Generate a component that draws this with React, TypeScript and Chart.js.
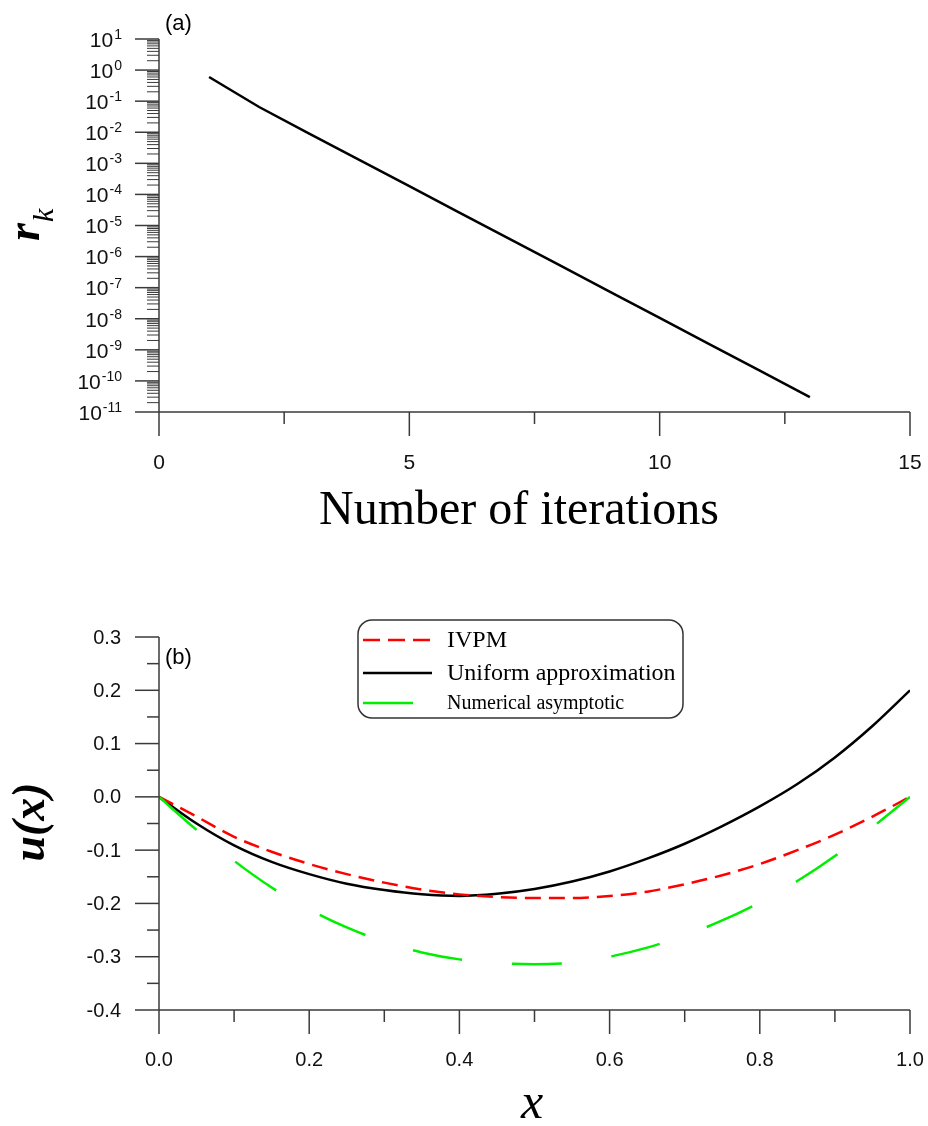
import React, { useEffect, useRef } from "react";
import { Chart, registerables } from "chart.js";

Chart.register(...registerables);

// ---------- Data (panel a) ----------
const iterations = [1, 2, 3, 4, 5, 6, 7, 8, 9, 10, 11, 12, 13];
const residuals = [0.6, 0.065, 9.1e-3, 1.3e-3, 1.85e-4, 2.6e-5, 3.7e-6, 5.3e-7, 7.5e-8, 1.07e-8, 1.5e-9, 2.15e-10, 3.0e-11];
const iterTicks = [0, 5, 10, 15];
const iterMinorTicks = [2.5, 7.5, 12.5];
const logExponents = [1, 0, -1, -2, -3, -4, -5, -6, -7, -8, -9, -10, -11];

// ---------- Data (panel b) ----------
const xGrid = [0, 0.05, 0.1, 0.15, 0.2, 0.25, 0.3, 0.35, 0.4, 0.45, 0.5, 0.55, 0.6, 0.65, 0.7, 0.75, 0.8, 0.85, 0.9, 0.95, 1.0];
const ivpm = [0, -0.037, -0.075, -0.103, -0.126, -0.145, -0.161, -0.174, -0.183, -0.188, -0.19, -0.19, -0.186, -0.178, -0.164, -0.147, -0.126, -0.1, -0.071, -0.037, 0];
const uniform = [0, -0.05, -0.091, -0.122, -0.145, -0.163, -0.175, -0.183, -0.186, -0.182, -0.173, -0.159, -0.14, -0.116, -0.088, -0.055, -0.018, 0.024, 0.074, 0.133, 0.2];
const asymptotic = [0, -0.062, -0.12, -0.17, -0.211, -0.245, -0.272, -0.292, -0.305, -0.312, -0.314, -0.311, -0.3, -0.283, -0.26, -0.232, -0.198, -0.158, -0.111, -0.057, 0];
const uTicks = [0.3, 0.2, 0.1, 0.0, -0.1, -0.2, -0.3, -0.4];
const uMinorTicks = [0.25, 0.15, 0.05, -0.05, -0.15, -0.25, -0.35];
const xTicks = [0, 0.2, 0.4, 0.6, 0.8, 1.0];
const xMinorTicks = [0.1, 0.3, 0.5, 0.7, 0.9];
const legendLabels = ["IVPM", "Uniform approximation", "Numerical asymptotic"];

const AXIS = "#3a3a3a";
const SANS = '"Liberation Sans", Arial, sans-serif';
const SERIF = '"Liberation Serif", "Times New Roman", serif';

function seg(ctx: CanvasRenderingContext2D, x1: number, y1: number, x2: number, y2: number) {
  ctx.beginPath();
  ctx.moveTo(x1, y1);
  ctx.lineTo(x2, y2);
  ctx.stroke();
}

const axesA = {
  id: "axesA",
  afterDraw(chart: any) {
    const { ctx, chartArea: ca, scales } = chart;
    const x = scales.x;
    const y = scales.y;
    ctx.save();
    ctx.strokeStyle = AXIS;
    ctx.lineWidth = 1.5;
    seg(ctx, ca.left, ca.top, ca.left, ca.bottom);
    seg(ctx, ca.left, ca.bottom, ca.right, ca.bottom);
    ctx.fillStyle = "#111";
    for (const e of logExponents) {
      const py = y.getPixelForValue(Math.pow(10, e));
      seg(ctx, ca.left - 24, py, ca.left, py);
      if (e > -11) {
        for (let m = 2; m <= 9; m++) {
          const p = y.getPixelForValue(m * Math.pow(10, e - 1));
          ctx.lineWidth = 1;
          seg(ctx, ca.left - 12, p, ca.left, p);
          ctx.lineWidth = 1.5;
        }
      }
      ctx.font = `14px ${SANS}`;
      ctx.textAlign = "right";
      ctx.textBaseline = "alphabetic";
      const sup = String(e);
      const sw = ctx.measureText(sup).width;
      ctx.fillText(sup, 122, py);
      ctx.font = `21px ${SANS}`;
      ctx.textBaseline = "middle";
      ctx.fillText("10", 122 - sw - 1, py + 2);
    }
    for (const t of iterTicks) {
      const px = x.getPixelForValue(t);
      seg(ctx, px, ca.bottom, px, ca.bottom + 24);
      ctx.font = `21px ${SANS}`;
      ctx.textAlign = "center";
      ctx.textBaseline = "middle";
      ctx.fillText(String(t), px, 463);
    }
    for (const t of iterMinorTicks) {
      const px = x.getPixelForValue(t);
      seg(ctx, px, ca.bottom, px, ca.bottom + 12);
    }
    // titles
    ctx.fillStyle = "#000";
    ctx.font = `48px ${SERIF}`;
    ctx.textAlign = "center";
    ctx.textBaseline = "alphabetic";
    ctx.fillText("Number of iterations", 519, 524);
    ctx.font = `22px ${SANS}`;
    ctx.textAlign = "left";
    ctx.textBaseline = "middle";
    ctx.fillText("(a)", 165, 24);
    // y title r_k
    ctx.save();
    ctx.translate(39, 241);
    ctx.rotate(-Math.PI / 2);
    ctx.textAlign = "left";
    ctx.textBaseline = "alphabetic";
    ctx.font = `italic bold 46px ${SERIF}`;
    ctx.fillText("r", 0, 0);
    const rw = ctx.measureText("r").width;
    ctx.font = `italic 30px ${SERIF}`;
    ctx.fillText("k", rw + 1, 14);
    ctx.restore();
    ctx.restore();
  },
};

const axesB = {
  id: "axesB",
  afterDraw(chart: any) {
    const { ctx, chartArea: ca, scales } = chart;
    const x = scales.x;
    const y = scales.y;
    const off = 560;
    ctx.save();
    ctx.strokeStyle = AXIS;
    ctx.lineWidth = 1.5;
    seg(ctx, ca.left, ca.top, ca.left, ca.bottom);
    seg(ctx, ca.left, ca.bottom, ca.right, ca.bottom);
    ctx.fillStyle = "#111";
    for (const t of uTicks) {
      const py = y.getPixelForValue(t);
      seg(ctx, ca.left - 24, py, ca.left, py);
      ctx.font = `20px ${SANS}`;
      ctx.textAlign = "right";
      ctx.textBaseline = "middle";
      ctx.fillText(t.toFixed(1), 121, py + 1);
    }
    for (const t of uMinorTicks) {
      const py = y.getPixelForValue(t);
      seg(ctx, ca.left - 12, py, ca.left, py);
    }
    for (const t of xTicks) {
      const px = x.getPixelForValue(t);
      seg(ctx, px, ca.bottom, px, ca.bottom + 24);
      ctx.font = `20px ${SANS}`;
      ctx.textAlign = "center";
      ctx.textBaseline = "middle";
      ctx.fillText(t.toFixed(1), px, 1060 - off);
    }
    for (const t of xMinorTicks) {
      const px = x.getPixelForValue(t);
      seg(ctx, px, ca.bottom, px, ca.bottom + 12);
    }
    // titles
    ctx.fillStyle = "#000";
    ctx.font = `italic 50px ${SERIF}`;
    ctx.textAlign = "center";
    ctx.textBaseline = "alphabetic";
    ctx.fillText("x", 532, 1118 - off);
    ctx.font = `22px ${SANS}`;
    ctx.textAlign = "left";
    ctx.textBaseline = "middle";
    ctx.fillText("(b)", 165, 658 - off);
    ctx.save();
    ctx.translate(44, 822 - off);
    ctx.rotate(-Math.PI / 2);
    ctx.textAlign = "center";
    ctx.textBaseline = "alphabetic";
    ctx.font = `italic bold 46px ${SERIF}`;
    ctx.fillText("u(x)", 0, 0);
    ctx.restore();
    // legend
    ctx.strokeStyle = "#333";
    ctx.lineWidth = 1.5;
    ctx.beginPath();
    if ((ctx as any).roundRect) (ctx as any).roundRect(358, 620 - off, 325, 98, 14);
    else ctx.rect(358, 620 - off, 325, 98);
    ctx.stroke();
    const rows = [
      { y: 640 - off, color: "#ff0000", dash: [17, 8], x2: 431, font: `24px ${SERIF}` },
      { y: 673 - off, color: "#000000", dash: [], x2: 432, font: `24px ${SERIF}` },
      { y: 703 - off, color: "#00ee00", dash: [], x2: 413, font: `20px ${SERIF}` },
    ];
    rows.forEach((r, i) => {
      ctx.strokeStyle = r.color;
      ctx.lineWidth = 2.5;
      ctx.setLineDash(r.dash);
      seg(ctx, 363, r.y, r.x2, r.y);
      ctx.setLineDash([]);
      ctx.fillStyle = "#000";
      ctx.font = r.font;
      ctx.textAlign = "left";
      ctx.textBaseline = "middle";
      ctx.fillText(legendLabels[i], 447, r.y + 1);
    });
    ctx.restore();
  },
};

function hiddenScale(extra: any, fitSize: (s: any) => void) {
  return {
    ...extra,
    display: true,
    grid: { display: false, drawTicks: false },
    border: { display: false },
    ticks: { display: false },
    title: { display: false },
    afterFit: fitSize,
  };
}

export default function App() {
  const refA = useRef<HTMLCanvasElement>(null);
  const refB = useRef<HTMLCanvasElement>(null);

  useEffect(() => {
    const chartA = new Chart(refA.current as HTMLCanvasElement, {
      type: "line",
      data: {
        datasets: [
          {
            data: iterations.map((it, i) => ({ x: it, y: residuals[i] })),
            borderColor: "#000",
            borderWidth: 2.5,
            pointRadius: 0,
            tension: 0,
            fill: false,
          },
        ],
      },
      options: {
        responsive: false,
        maintainAspectRatio: false,
        animation: false,
        events: [],
        layout: { padding: { left: 0, right: 18, top: 39, bottom: 0 } },
        plugins: { legend: { display: false }, tooltip: { enabled: false } },
        scales: {
          x: hiddenScale({ type: "linear", min: 0, max: 15 }, (s: any) => { s.height = 148; }),
          y: hiddenScale({ type: "logarithmic", min: 1e-11, max: 10 }, (s: any) => { s.width = 159; }),
        },
      } as any,
      plugins: [axesA],
    });

    const chartB = new Chart(refB.current as HTMLCanvasElement, {
      type: "line",
      data: {
        datasets: [
          {
            label: legendLabels[2],
            data: xGrid.map((xv, i) => ({ x: xv, y: asymptotic[i] })),
            borderColor: "#00ee00",
            borderWidth: 2.5,
            borderDash: [50, 50],
            pointRadius: 0,
            cubicInterpolationMode: "monotone",
            fill: false,
          },
          {
            label: legendLabels[0],
            data: xGrid.map((xv, i) => ({ x: xv, y: ivpm[i] })),
            borderColor: "#ff0000",
            borderWidth: 2.5,
            borderDash: [16, 8],
            pointRadius: 0,
            cubicInterpolationMode: "monotone",
            fill: false,
          },
          {
            label: legendLabels[1],
            data: xGrid.map((xv, i) => ({ x: xv, y: uniform[i] })),
            borderColor: "#000000",
            borderWidth: 2.5,
            pointRadius: 0,
            cubicInterpolationMode: "monotone",
            fill: false,
          },
        ],
      },
      options: {
        responsive: false,
        maintainAspectRatio: false,
        animation: false,
        events: [],
        layout: { padding: { left: 0, right: 18, top: 77, bottom: 0 } },
        plugins: { legend: { display: false }, tooltip: { enabled: false } },
        scales: {
          x: hiddenScale({ type: "linear", min: 0, max: 1 }, (s: any) => { s.height = 116; }),
          y: hiddenScale({ type: "linear", min: -0.4, max: 0.3 }, (s: any) => { s.width = 159; }),
        },
      } as any,
      plugins: [axesB],
    });

    return () => {
      chartA.destroy();
      chartB.destroy();
    };
  }, []);

  return (
    <div style={{ position: "absolute", left: 0, top: 0, width: 928, height: 1126, background: "#fff" }}>
      <canvas ref={refA} width={928} height={560} style={{ position: "absolute", left: 0, top: 0 }} />
      <canvas ref={refB} width={928} height={566} style={{ position: "absolute", left: 0, top: 560 }} />
    </div>
  );
}
